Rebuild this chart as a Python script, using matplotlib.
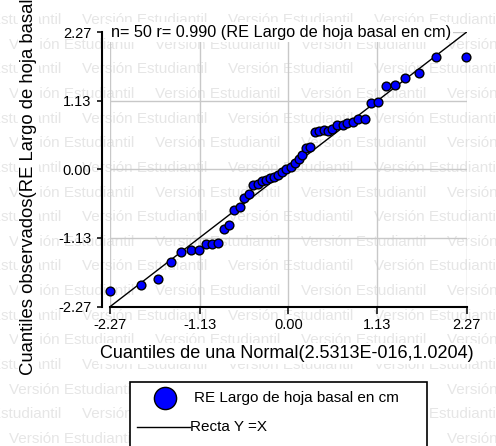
import numpy as np
import matplotlib.pyplot as plt
from matplotlib.patches import Rectangle
from matplotlib.lines import Line2D

plt.rcParams['font.family'] = ['Liberation Sans', 'DejaVu Sans']

# cuantiles teoricos (eje x) y observados (eje y)
q_normal = [-2.27, -1.88, -1.66, -1.49, -1.36, -1.24, -1.14, -1.05, -0.97, -0.89,
            -0.82, -0.75, -0.69, -0.62, -0.56, -0.50, -0.45, -0.39, -0.34, -0.28,
            -0.23, -0.18, -0.13, -0.08, -0.03, 0.03, 0.08, 0.13, 0.18, 0.23,
            0.28, 0.34, 0.39, 0.45, 0.50, 0.56, 0.62, 0.69, 0.75, 0.82,
            0.89, 0.97, 1.05, 1.14, 1.24, 1.36, 1.49, 1.66, 1.88, 2.26]
q_obs = [-2.01, -1.91, -1.82, -1.53, -1.37, -1.34, -1.34, -1.24, -1.24, -1.22,
         -0.98, -0.92, -0.67, -0.62, -0.48, -0.40, -0.26, -0.24, -0.20, -0.18,
         -0.15, -0.12, -0.09, -0.04, 0.00, 0.04, 0.10, 0.17, 0.24, 0.36,
         0.37, 0.61, 0.64, 0.65, 0.64, 0.67, 0.73, 0.74, 0.76, 0.79,
         0.83, 0.84, 1.09, 1.11, 1.37, 1.40, 1.51, 1.60, 1.86, 1.86]

lim = 2.27
ticks = [-2.27, -1.13, 0.00, 1.13, 2.27]
tick_labels = ['-2.27', '-1.13', '0.00', '1.13', '2.27']

titulo = 'n= 50 r= 0.990 (RE Largo de hoja basal en cm)'
xlab = 'Cuantiles de una Normal(2.5313E-016,1.0204)'
ylab = 'Cuantiles observados(RE Largo de hoja basal en cm)'
serie = 'RE Largo de hoja basal en cm'
recta = 'Recta Y =X'

W, H = 496, 446
fig = plt.figure(figsize=(W / 100, H / 100), dpi=100)


def fx(px):
    return px / W


def fy(py):
    return 1 - py / H


# marca de agua
for k in range(19):
    yy = 20 + 24.65 * k
    x0 = 82 if k % 2 == 0 else 9
    for xx in np.arange(x0 - 292, W + 10, 146):
        fig.text(fx(xx), fy(yy), 'Versión Estudiantil', color='#e6e6e6',
                 fontsize=11, ha='left', va='center', zorder=-5)

ax = fig.add_axes([fx(110), fy(306.7), fx(466.7) - fx(110), (306.7 - 32) / H])
ax.set_facecolor('none')
ax.set_xlim(-lim, lim)
ax.set_ylim(-lim, lim)
ax.set_xticks(ticks)
ax.set_xticklabels(tick_labels)
ax.set_yticks(ticks)
ax.set_yticklabels(tick_labels)
ax.grid(True, color='#c8c8c8', lw=1.0)
ax.set_axisbelow(True)

for s in ['top', 'right']:
    ax.spines[s].set_visible(False)
ax.spines['left'].set_position(('outward', 5.8))
ax.spines['left'].set_linewidth(1.5)
ax.spines['bottom'].set_linewidth(1.5)
ax.tick_params(axis='x', length=5, width=1.1, pad=3, labelsize=10.5)
ax.tick_params(axis='y', length=3.5, width=1.1, pad=4, labelsize=10.5)

ax.plot([-lim, lim], [-lim, lim], color='black', lw=1.0, zorder=3)
ax.plot(q_normal, q_obs, 'o', ms=6.3, mfc='#0000ff', mec='black', mew=1.0,
        clip_on=False, zorder=4)

ax.text(0.003, 1.0, titulo, transform=ax.transAxes, ha='left', va='center',
        fontsize=11.7, zorder=6, clip_on=False,
        bbox=dict(facecolor='white', edgecolor='none', pad=1.5))

fig.text(fx(287), fy(358), xlab, ha='center', va='baseline', fontsize=13,
         bbox=dict(facecolor='white', edgecolor='none', pad=1.5))
fig.text(fx(28.5), fy(375), ylab, ha='center', va='bottom', rotation=90,
         fontsize=13.3, bbox=dict(facecolor='white', edgecolor='none', pad=1.5))

# leyenda
fig.add_artist(Rectangle((fx(130), fy(470)), fx(427) - fx(130), (470 - 382) / H,
                         transform=fig.transFigure, facecolor='white',
                         edgecolor='black', lw=1.2, zorder=5))
fig.add_artist(Line2D([fx(165)], [fy(398)], marker='o', ms=16, mfc='#0000ff',
                      mec='black', mew=1.0, transform=fig.transFigure, zorder=6))
fig.add_artist(Line2D([fx(137), fx(190)], [fy(427), fy(427)], color='black',
                      lw=1.0, transform=fig.transFigure, zorder=6))
fig.text(fx(194), fy(401.7), serie, ha='left', va='baseline', fontsize=11, zorder=7)
fig.text(fx(190), fy(431), recta, ha='left', va='baseline', fontsize=11, zorder=7)

fig.savefig('out.png', dpi=100)
